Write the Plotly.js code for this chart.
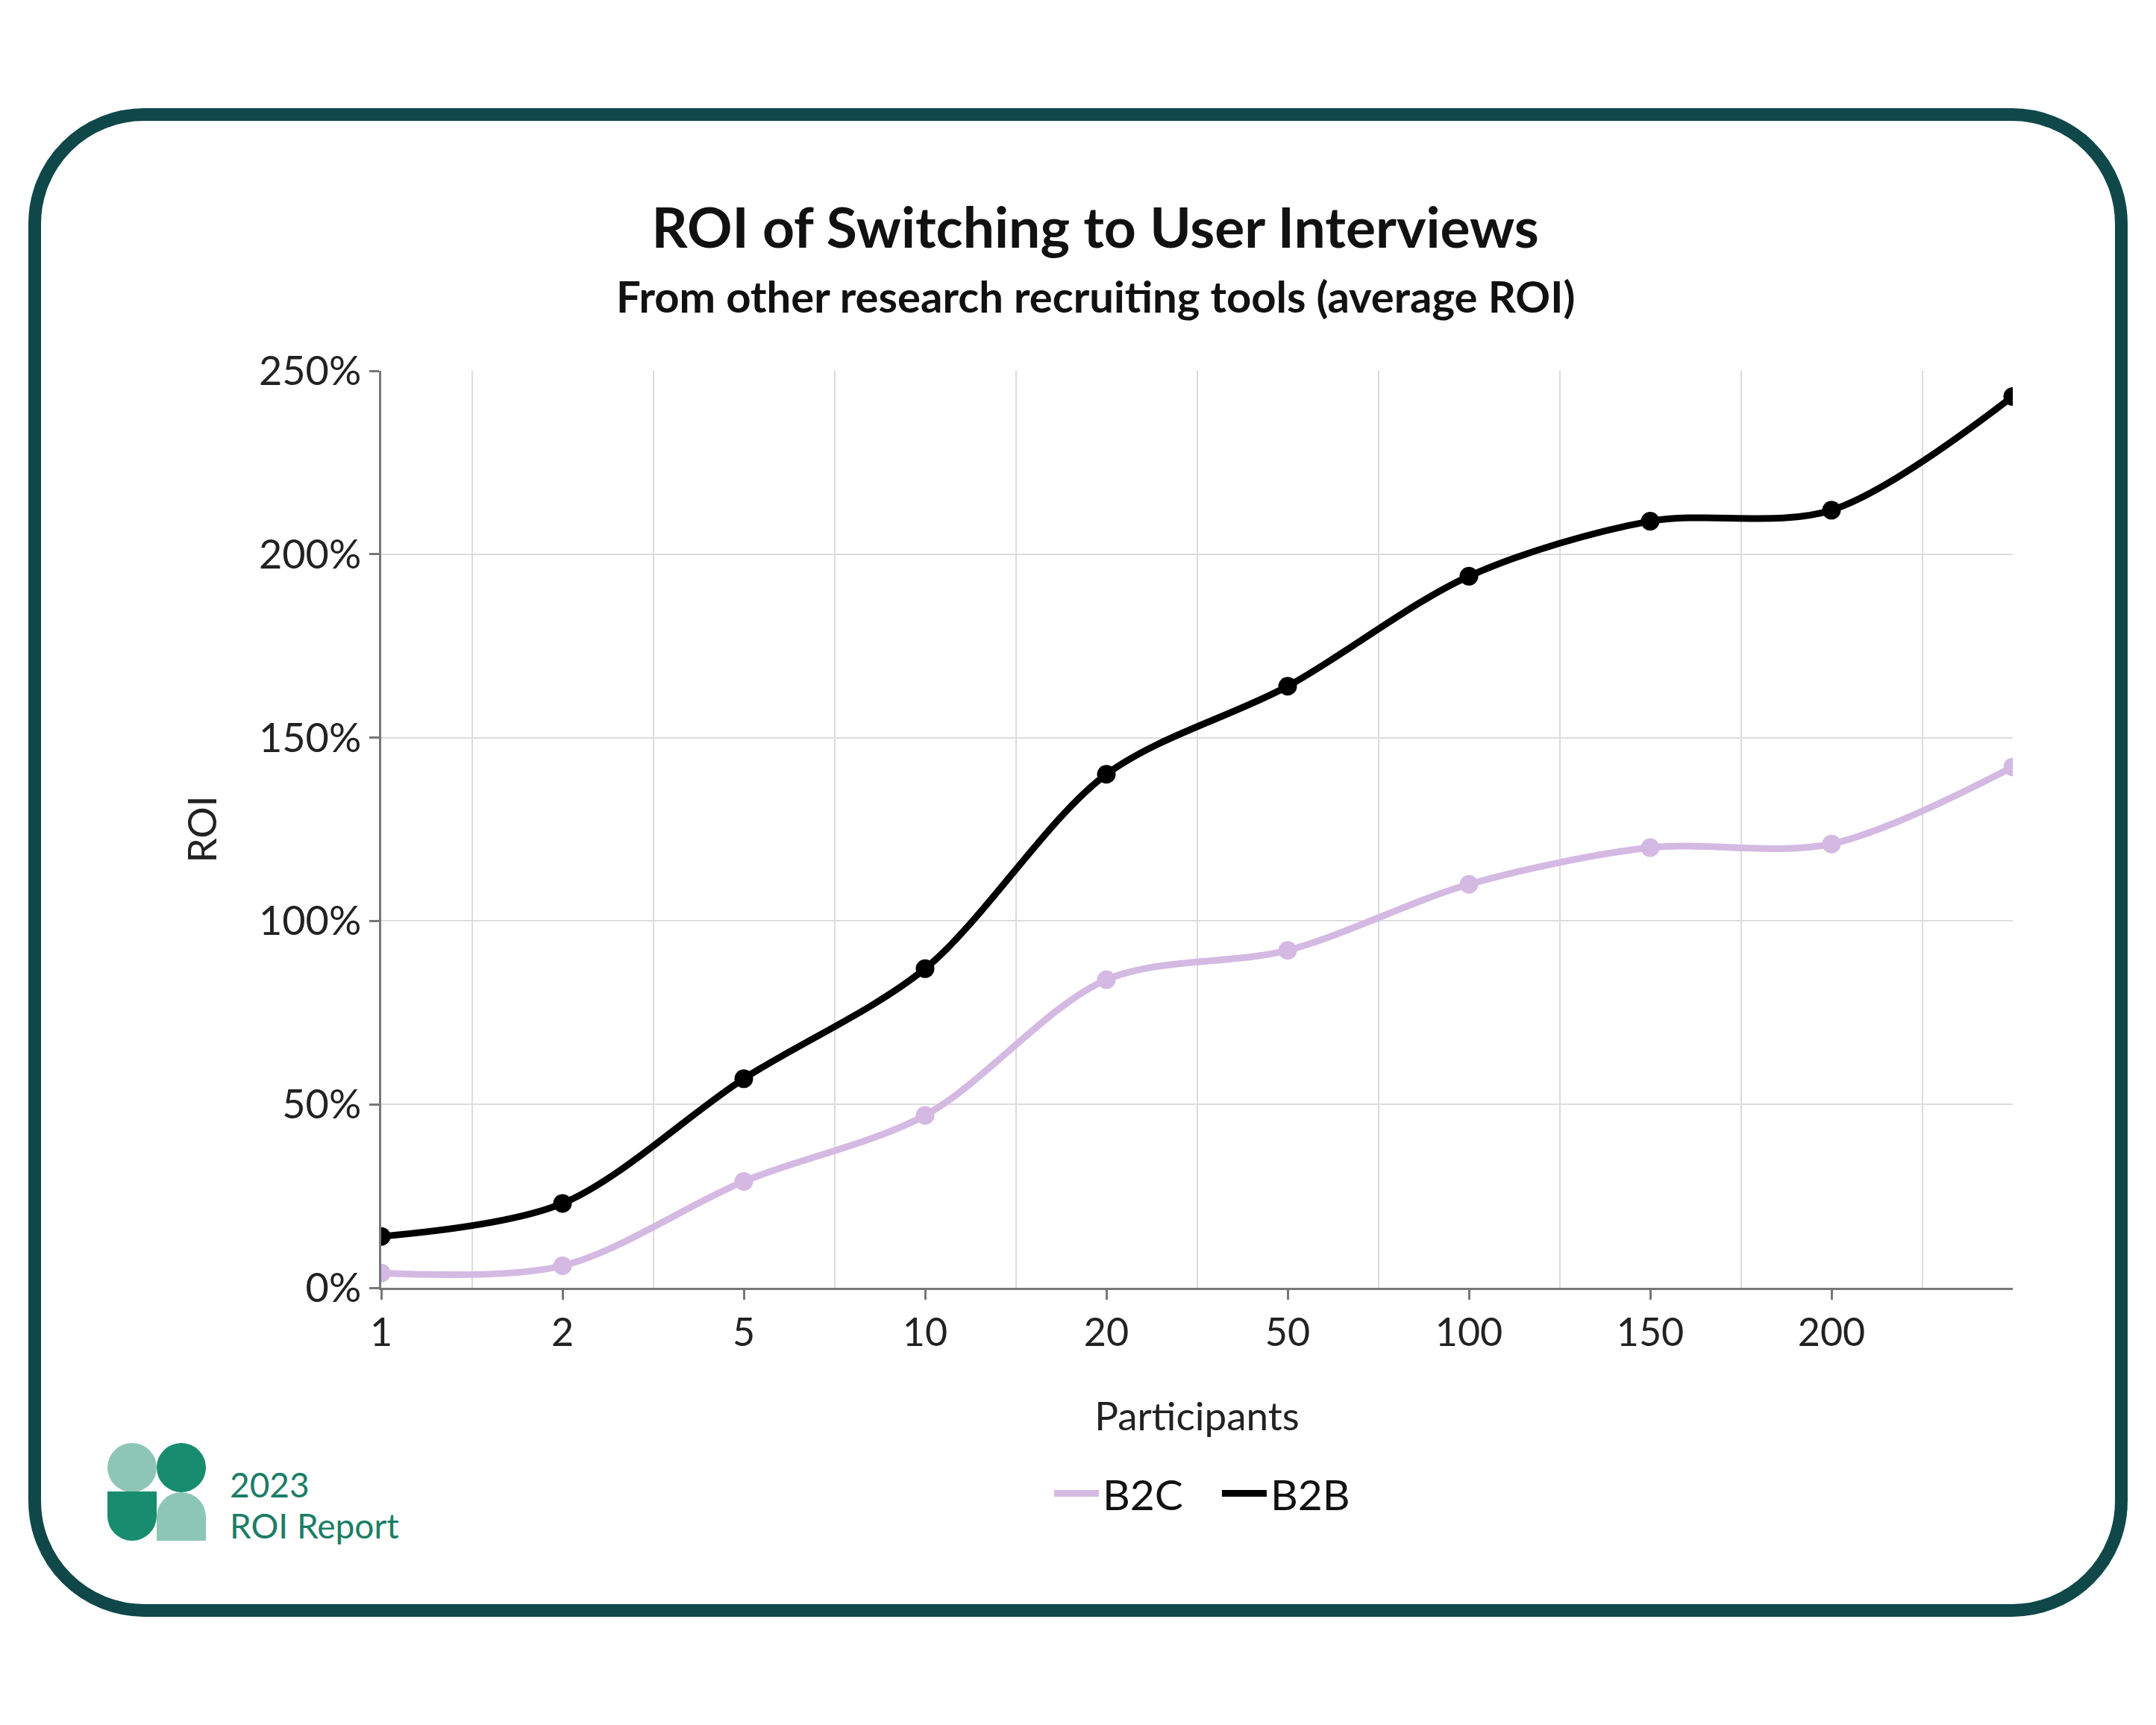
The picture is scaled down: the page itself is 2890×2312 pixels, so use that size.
<!DOCTYPE html>
<html>
<head>
<meta charset="utf-8">
<script src="https://cdn.plot.ly/plotly-3.0.1.min.js"></script>
<style>
  html, body { margin: 0; padding: 0; background: #ffffff; }
  #page { position: relative; width: 2890px; height: 2312px; overflow: hidden; }
  #frame {
    position: absolute; left: 38px; top: 145px; width: 2814px; height: 2022px;
    box-sizing: border-box; border: 17px solid #10484a; border-radius: 155px;
  }
  #chart { position: absolute; left: 0; top: 0; width: 2890px; height: 2312px; }
  .logo-part { position: absolute; width: 66px; height: 66px; }
  #logo-text {
    position: absolute; left: 308px; top: 1962px;
    font-family: Lato, sans-serif; font-size: 46px; line-height: 55px; color: #1b7d66;
  }
</style>
</head>
<body>
<div id="page">
  <div id="frame"></div>
  <div id="chart"></div>
  <!-- logo du rapport -->
  <div class="logo-part" style="left:144px;top:1934px;border-radius:50%;background:#8dc6b6"></div>
  <div class="logo-part" style="left:210px;top:1934px;border-radius:50%;background:#188c6f"></div>
  <div class="logo-part" style="left:144px;top:1999px;border-radius:0 0 33px 33px;background:#188c6f"></div>
  <div class="logo-part" style="left:210px;top:2000px;height:65px;border-radius:33px 33px 0 0;background:#8dc6b6"></div>
  <div id="logo-text">2023<br>ROI Report</div>
</div>
<script>
// participants (le dernier point n'a pas d'étiquette sur l'axe)
const participants = ['1', '2', '5', '10', '20', '50', '100', '150', '200', '250'];
const tickLabels = ['1', '2', '5', '10', '20', '50', '100', '150', '200'];
const roiB2C = [4, 6, 29, 47, 84, 92, 110, 120, 121, 142];
const roiB2B = [14, 23, 57, 87, 140, 164, 194, 209, 212, 243];

const xPos = participants.map((_, i) => i);
const font = 'Lato, "Open Sans", sans-serif';

const series = [
  {name: 'B2C', y: roiB2C, color: '#d4b9e3', width: 9},
  {name: 'B2B', y: roiB2B, color: '#000000', width: 9}
];

// une trace ligne (avec légende) + une trace points (sans légende) par série
const traces = [];
series.forEach(s => {
  traces.push({
    x: xPos, y: s.y, name: s.name, mode: 'lines', legendgroup: s.name,
    line: {color: s.color, width: s.width, shape: 'spline', smoothing: 0.9}
  });
});
series.forEach(s => {
  traces.push({
    x: xPos, y: s.y, name: s.name, mode: 'markers', legendgroup: s.name,
    showlegend: false,
    marker: {color: s.color, size: 25}
  });
});

const layout = {
  width: 2890, height: 2312,
  margin: {l: 511, r: 192, t: 497, b: 586},
  paper_bgcolor: 'rgba(0,0,0,0)',
  plot_bgcolor: 'rgba(0,0,0,0)',
  font: {family: font, color: '#222222', size: 52},
  title: {
    text: 'ROI of Switching to User Interviews',
    font: {family: font, size: 75, weight: 700, color: '#111111'},
    xref: 'container', x: 0.508, xanchor: 'center',
    yref: 'container', y: 1 - 306 / 2312, yanchor: 'middle'
  },
  annotations: [{
    text: 'From other research recruiting tools (average ROI)',
    font: {family: font, size: 58, weight: 700, color: '#111111'},
    xref: 'paper', x: (1468 - 511) / 2187, xanchor: 'center',
    yref: 'paper', y: (1726 - 396) / 1229, yanchor: 'middle',
    showarrow: false
  }],
  xaxis: {
    range: [0, 9],
    tickmode: 'array',
    tickvals: tickLabels.map((_, i) => i),
    ticktext: tickLabels,
    showgrid: false,
    zeroline: false,
    showline: true, linecolor: '#777777', linewidth: 3,
    ticks: 'outside', ticklen: 13, tickwidth: 3, tickcolor: '#777777',
    ticklabelstandoff: 0,
    tickfont: {size: 52, color: '#222222'},
    minor: {
      tickmode: 'array',
      tickvals: tickLabels.map((_, i) => i + 0.5),
      showgrid: true, gridcolor: '#dcdcdc', gridwidth: 2, ticks: ''
    },
    title: {text: 'Participants', font: {size: 53, color: '#222222'}, standoff: 66}
  },
  yaxis: {
    range: [0, 250],
    dtick: 50,
    ticksuffix: '%',
    showgrid: true, gridcolor: '#dcdcdc', gridwidth: 2,
    zeroline: false,
    showline: true, linecolor: '#777777', linewidth: 3,
    ticks: 'outside', ticklen: 13, tickwidth: 3, tickcolor: '#777777',
    ticklabelstandoff: 0,
    tickfont: {size: 54, color: '#222222'},
    title: {text: 'ROI', font: {size: 53, color: '#222222'}, standoff: 40}
  },
  showlegend: true,
  legend: {
    orientation: 'h',
    x: 0.513, xanchor: 'center',
    y: -(2002 - 1726) / 1229, yanchor: 'middle',
    font: {size: 57, color: '#111111'},
    itemwidth: 60,
    entrywidth: 150,
    bgcolor: 'rgba(0,0,0,0)'
  },
  hovermode: false
};

Plotly.newPlot('chart', traces, layout, {staticPlot: true});
</script>
</body>
</html>
